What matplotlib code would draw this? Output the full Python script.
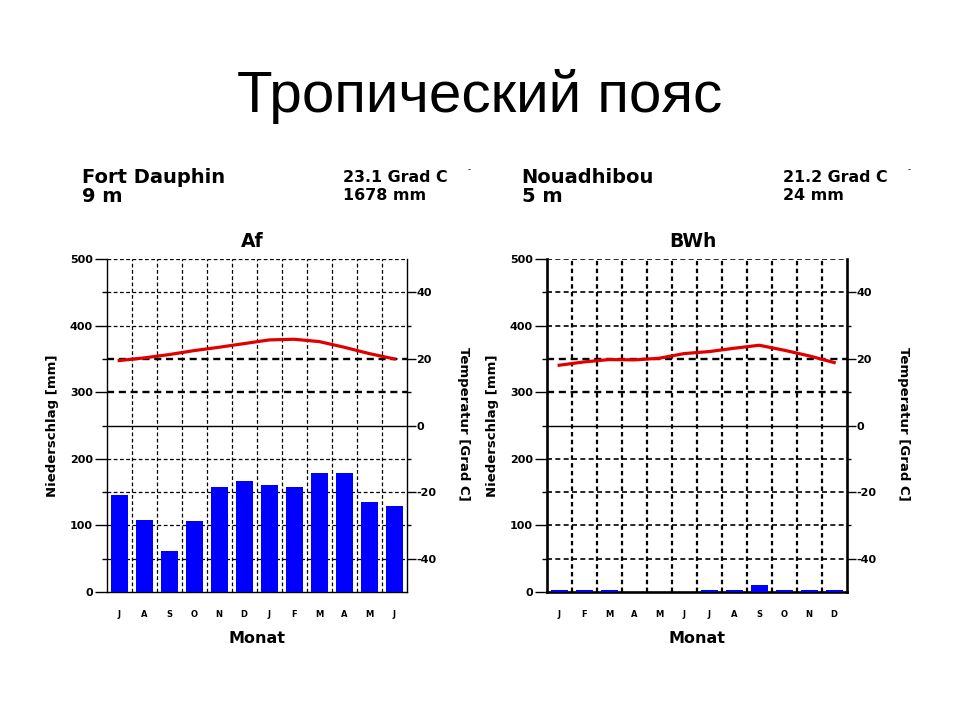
import numpy as np
import matplotlib
matplotlib.use("Agg")
import matplotlib.pyplot as plt

# ---- data ----
title = "Тропический пояс"

st1_name = "Fort Dauphin"
st1_alt = "9 m"
st1_temp_mean = "23.1 Grad C"
st1_prec_sum = "1678 mm"
st1_class = "Af"
st1_months = ["J", "A", "S", "O", "N", "D", "J", "F", "M", "A", "M", "J"]
st1_precip = [145, 108, 62, 107, 157, 166, 160, 157, 179, 179, 135, 129]
st1_temp = [19.5, 20.3, 21.3, 22.5, 23.5, 24.6, 25.7, 25.9, 25.2, 23.5, 21.6, 20.0]

st2_name = "Nouadhibou"
st2_alt = "5 m"
st2_temp_mean = "21.2 Grad C"
st2_prec_sum = "24 mm"
st2_class = "BWh"
st2_months = ["J", "F", "M", "A", "M", "J", "J", "A", "S", "O", "N", "D"]
st2_precip = [3, 3, 3, 0, 0, 0, 3, 3, 11, 3, 3, 3]
st2_temp = [18.1, 19.1, 19.8, 19.7, 20.2, 21.6, 22.2, 23.2, 24.1, 22.6, 20.9, 18.9]

precip_ticks = [0, 100, 200, 300, 400, 500]
precip_tick_labels = ["0", "100", "200", "300", "400", "500"]
temp_ticks = [-40, -20, 0, 20, 40]
temp_tick_labels = ["-40", "-20", "0", "20", "40"]

TFONT = "Liberation Sans"
FONT = "DejaVu Sans"
W, H = 960, 720

fig = plt.figure(figsize=(9.6, 7.2), dpi=100)
fig.patch.set_facecolor("white")


def fx(px):
    return px / W


def fy(py):
    return 1 - py / H


fig.text(0.5, fy(111.7), title, ha="center", va="baseline",
         fontsize=42, family=TFONT, color="black")


def draw(x0px, months, precip, temp, name, alt, tmean, psum, cls, thick):
    x1px = x0px + 300
    ax = fig.add_axes([fx(x0px), fy(592), 300 / W, (592 - 259) / H])
    ax.set_xlim(0, 12)
    ax.set_ylim(0, 500)
    xs = np.arange(12) + 0.5

    spine_lw = 1.9 if thick else 1.0
    hlw = 1.2 if thick else 0.9
    # horizontal grid lines
    for yv in range(50, 501, 50):
        if yv == 250:
            ax.axhline(yv, color="black", lw=1.0, zorder=1)
        else:
            lw = 1.7 if yv in (300, 350) else hlw
            ax.axhline(yv, color="black", lw=lw, ls=(0, (3, 2)), zorder=1)
    # vertical grid lines
    for xv in range(1, 12):
        if thick:
            ax.axvline(xv, color="black", lw=1.6, ls=(0, (2, 1.5)), zorder=1)
        else:
            ax.axvline(xv, color="black", lw=0.9, ls=(0, (3, 2)), zorder=1)

    ax.bar(xs, precip, width=0.67, color="#0000ff", zorder=3)

    for s in ("left", "right", "bottom"):
        ax.spines[s].set_linewidth(spine_lw)
    ax.spines["top"].set_visible(False)

    ax.set_yticks(precip_ticks)
    ax.set_yticklabels(precip_tick_labels)
    ax.set_yticks(range(50, 500, 100), minor=True)
    ax.tick_params(axis="y", which="major", length=8.5, width=1.0, pad=1.5,
                   labelsize=8)
    ax.tick_params(axis="y", which="minor", length=3.6, width=1.0)
    for lab in ax.get_yticklabels():
        lab.set_fontfamily(FONT)
        lab.set_fontweight("bold")

    ax.set_xticks(xs)
    ax.set_xticklabels(months)
    ax.tick_params(axis="x", length=0, pad=13, labelsize=6)
    for lab in ax.get_xticklabels():
        lab.set_fontfamily(FONT)
        lab.set_fontweight("bold")

    ax2 = ax.twinx()
    ax2.set_ylim(-50, 50)
    for s in ax2.spines.values():
        s.set_visible(False)
    ax2.plot(xs, temp, color="#e00000", lw=2.3, zorder=5)
    ax2.set_yticks(temp_ticks)
    ax2.set_yticklabels(temp_tick_labels)
    ax2.set_yticks([-30, -10, 10, 30], minor=True)
    ax2.tick_params(axis="y", which="major", length=6.5, width=1.0, pad=0.5,
                    labelsize=8)
    ax2.tick_params(axis="y", which="minor", length=3.0, width=1.0)
    for lab in ax2.get_yticklabels():
        lab.set_fontfamily(FONT)
        lab.set_fontweight("bold")

    cx = (x0px + x1px) / 2
    # axis labels
    fig.text(fx(cx), fy(643), "Monat", ha="center", va="baseline",
             fontsize=11.5, fontweight="bold", family=FONT)
    fig.text(fx(x0px - 54), fy(426), "Niederschlag [mm]", ha="center",
             va="center", rotation=90, fontsize=9.5, fontweight="bold",
             family=FONT)
    fig.text(fx(x1px + 57), fy(424), "Temperatur [Grad C]", ha="center",
             va="center", rotation=270, fontsize=9.5, fontweight="bold",
             family=FONT)
    # headers
    fig.text(fx(cx - 4), fy(246.7), cls, ha="center", va="baseline",
             fontsize=13.5, fontweight="bold", family=FONT)
    fig.text(fx(x0px - 25), fy(183), name, ha="left", va="baseline",
             fontsize=14, fontweight="bold", family=FONT)
    fig.text(fx(x0px - 25), fy(202), alt, ha="left", va="baseline",
             fontsize=14, fontweight="bold", family=FONT)
    fig.text(fx(x0px + 236), fy(182.3), tmean, ha="left", va="baseline",
             fontsize=11.4, fontweight="bold", family=FONT)
    fig.text(fx(x0px + 236), fy(200), psum, ha="left", va="baseline",
             fontsize=11.4, fontweight="bold", family=FONT)
    fig.text(fx(x0px + 361), fy(170), "-", ha="left", va="center",
             fontsize=6, family=FONT)


draw(106.7, st1_months, st1_precip, st1_temp, st1_name, st1_alt,
     st1_temp_mean, st1_prec_sum, st1_class, False)
draw(546.7, st2_months, st2_precip, st2_temp, st2_name, st2_alt,
     st2_temp_mean, st2_prec_sum, st2_class, True)

fig.savefig("out.png", dpi=100, facecolor="white")
